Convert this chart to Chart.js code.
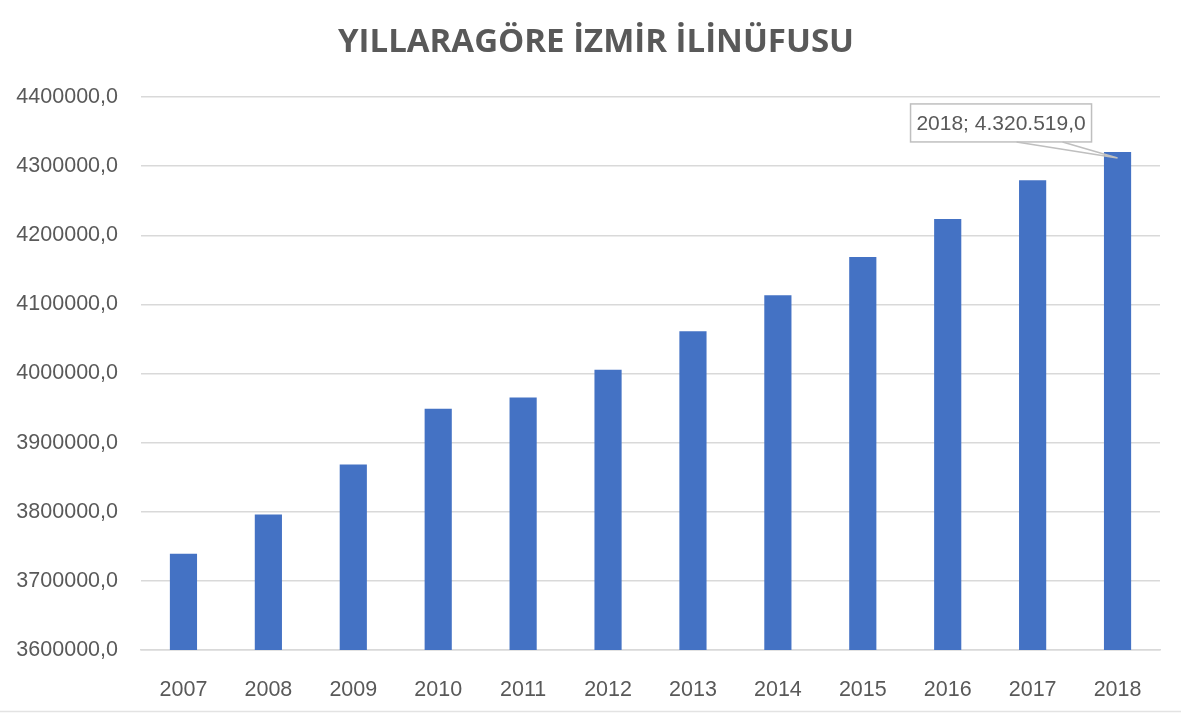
<!DOCTYPE html>
<html>
<head>
<meta charset="utf-8">
<script src="https://cdn.jsdelivr.net/npm/chart.js@4.4.0/dist/chart.umd.min.js"></script>
<style>
  html, body { margin: 0; padding: 0; background: #fff; }
  #wrap { width: 1181px; height: 713px; position: relative; }
</style>
</head>
<body>
<div id="wrap"><canvas id="nufusChart"></canvas></div>
<script>
const years = ['2007', '2008', '2009', '2010', '2011', '2012', '2013', '2014', '2015', '2016', '2017', '2018'];
const population = [3739353, 3795978, 3868308, 3948848, 3965232, 4005459, 4061074, 4113072, 4168415, 4223545, 4279677, 4320519];
const yTicks = [3600000, 3700000, 3800000, 3900000, 4000000, 4100000, 4200000, 4300000, 4400000];
const titleText = 'YILLARAGÖRE İZMİR İLİNÜFUSU';
const calloutText = '2018; 4.320.519,0';

const TEXT = '#595959';
const LABEL_FONT = '"Liberation Sans", Arial, sans-serif';

// title drawn by hand so it can sit centred on the whole picture (Excel style)
const titlePlugin = {
  id: 'excelTitle',
  afterDraw(chart) {
    const ctx = chart.ctx;
    ctx.save();
    ctx.fillStyle = TEXT;
    ctx.font = 'bold 33px "Open Sans", "DejaVu Sans", sans-serif';
    ctx.textAlign = 'center';
    ctx.textBaseline = 'middle';
    ctx.fillText(titleText, 596, 43);
    ctx.restore();
  }
};

// callout box for the last bar, like the Excel data label
const calloutPlugin = {
  id: 'callout',
  afterDatasetsDraw(chart) {
    const bar = chart.getDatasetMeta(0).data[years.length - 1];
    if (!bar) return;
    const ctx = chart.ctx;
    const bx = bar.x - 207, by = bar.y - 48, bw = 181, bh = 38;
    ctx.save();
    ctx.strokeStyle = '#bfbfbf';
    ctx.lineWidth = 1.5;
    ctx.fillStyle = '#fff';
    ctx.fillRect(bx, by, bw, bh);
    ctx.strokeRect(bx, by, bw, bh);
    ctx.beginPath();
    ctx.moveTo(bx + 106, by + bh);
    ctx.lineTo(bar.x, bar.y + 6);
    ctx.lineTo(bx + 152, by + bh);
    ctx.stroke();
    ctx.fillStyle = TEXT;
    ctx.font = '21px ' + LABEL_FONT;
    ctx.textAlign = 'center';
    ctx.textBaseline = 'middle';
    ctx.fillText(calloutText, bx + bw / 2, by + bh / 2 + 1);
    ctx.restore();
  }
};

// thin frame line at the very bottom of the chart
const frameLine = {
  id: 'frameLine',
  afterDraw(chart) {
    const ctx = chart.ctx;
    ctx.save();
    ctx.strokeStyle = '#e3e3e3';
    ctx.lineWidth = 1.5;
    ctx.beginPath();
    ctx.moveTo(0, chart.height - 1.5);
    ctx.lineTo(chart.width, chart.height - 1.5);
    ctx.stroke();
    ctx.restore();
  }
};

new Chart(document.getElementById('nufusChart'), {
  type: 'bar',
  data: {
    labels: years,
    datasets: [{
      data: population,
      backgroundColor: '#4472C4',
      barPercentage: 0.32,
      categoryPercentage: 1
    }]
  },
  options: {
    responsive: true,
    maintainAspectRatio: false,
    animation: false,
    layout: { padding: { left: 0, right: 21, top: 97, bottom: 0 } },
    plugins: {
      legend: { display: false },
      tooltip: { enabled: false },
      title: { display: false }
    },
    scales: {
      x: {
        grid: { display: false, drawTicks: false },
        border: { color: '#d9d9d9', width: 1.5 },
        ticks: {
          color: TEXT,
          font: { family: LABEL_FONT, size: 21.5 },
          padding: 27,
          maxRotation: 0
        },
        afterFit: (s) => { s.height = 63; }
      },
      y: {
        min: yTicks[0],
        max: yTicks[yTicks.length - 1],
        afterBuildTicks: (s) => { s.ticks = yTicks.map((v) => ({ value: v })); },
        grid: { color: '#d9d9d9', lineWidth: 1.5, drawTicks: false },
        border: { display: false },
        ticks: {
          color: TEXT,
          font: { family: LABEL_FONT, size: 21.5 },
          padding: 23,
          callback: (v) => v.toFixed(1).replace('.', ',')
        },
        afterFit: (s) => { s.width = 141; }
      }
    }
  },
  plugins: [calloutPlugin, frameLine, titlePlugin]
});
</script>
</body>
</html>
